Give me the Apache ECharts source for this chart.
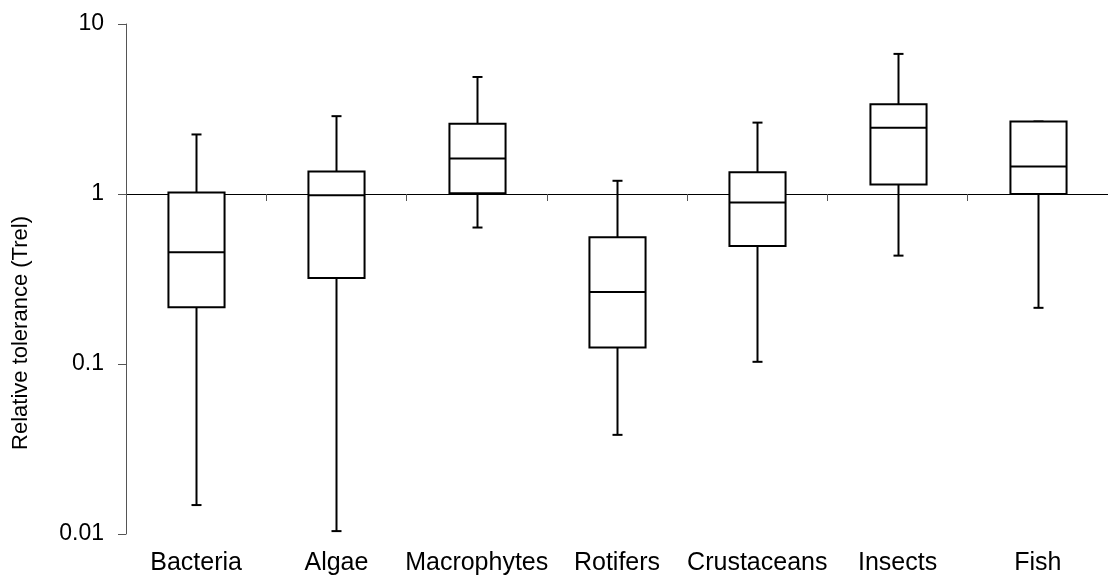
<!DOCTYPE html>
<html>
<head>
<meta charset="utf-8">
<style>
  html, body { margin: 0; padding: 0; background: #fff; }
  #chart { width: 1108px; height: 579px; }
</style>
<script src="https://cdn.jsdelivr.net/npm/echarts@6/dist/echarts.min.js"></script>
</head>
<body>
<div id="chart"></div>
<script>
// Taxonomic groups along the category axis
const categories = ['Bacteria', 'Algae', 'Macrophytes', 'Rotifers', 'Crustaceans', 'Insects', 'Fish'];

// Box-and-whisker statistics of relative tolerance (Trel) per group
const whiskerLow  = [0.0148, 0.0104, 0.635, 0.0383, 0.103, 0.434, 0.214];
const quartile1   = [0.216, 0.321, 1.01, 0.125, 0.495, 1.137, 1.00];
const median      = [0.454, 0.984, 1.62, 0.265, 0.891, 2.45, 1.45];
const quartile3   = [1.02, 1.357, 2.59, 0.556, 1.344, 3.37, 2.67];
const whiskerHigh = [2.24, 2.87, 4.88, 1.196, 2.63, 6.67, 2.67];

// Log-axis tick labels
const yTickLabels = ['0.01', '0.1', '1', '10'];

const FONT = '"Liberation Sans", Arial, sans-serif';
const GRID = { left: 126, top: 24, width: 988, height: 510 };

const boxData = categories.map((c, i) =>
  [i, whiskerLow[i], quartile1[i], median[i], quartile3[i], whiskerHigh[i]]);

function renderBox(params, api) {
  const i = api.value(0);
  const pLow = api.coord([i, api.value(1)]);
  const pQ1 = api.coord([i, api.value(2)]);
  const pMed = api.coord([i, api.value(3)]);
  const pQ3 = api.coord([i, api.value(4)]);
  const pHigh = api.coord([i, api.value(5)]);
  const cx = Math.round(pMed[0]) + 0.5;
  const halfBox = api.size([1, 0])[0] * 0.4 / 2;
  const halfCap = 5;
  const stroke = { stroke: '#000', lineWidth: 2, fill: null };
  const line = (x1, y1, x2, y2) => ({
    type: 'line', shape: { x1, y1, x2, y2 }, style: stroke
  });
  const children = [
    line(cx, pQ3[1], cx, pHigh[1]),
    line(cx - halfCap, pHigh[1], cx + halfCap, pHigh[1]),
    line(cx, pQ1[1], cx, pLow[1]),
    line(cx - halfCap, pLow[1], cx + halfCap, pLow[1]),
    {
      type: 'rect',
      shape: { x: cx - halfBox, y: pQ3[1], width: halfBox * 2, height: pQ1[1] - pQ3[1] },
      style: { stroke: '#000', lineWidth: 2, fill: '#fff' }
    },
    line(cx - halfBox, pMed[1], cx + halfBox, pMed[1])
  ];
  return { type: 'group', children };
}

const chart = echarts.init(document.getElementById('chart'), null, { renderer: 'canvas' });

chart.setOption({
  animation: false,
  backgroundColor: '#fff',
  grid: GRID,
  xAxis: [
    {
      // category names along the bottom
      type: 'category',
      data: categories,
      position: 'bottom',
      axisLine: { show: false },
      axisTick: { show: false },
      splitLine: { show: false },
      axisLabel: { color: '#000', fontFamily: FONT, fontSize: 25, margin: 17, interval: 0 }
    },
    {
      // reference line crossing the value axis at Trel = 1
      type: 'category',
      data: categories,
      position: 'bottom',
      offset: -GRID.height * 2 / 3,
      axisLine: { show: true, lineStyle: { color: '#000', width: 1 } },
      axisTick: { show: true, length: 7, interval: 0, lineStyle: { color: '#555', width: 1 } },
      axisLabel: { show: false },
      splitLine: { show: false }
    }
  ],
  yAxis: {
    type: 'log',
    logBase: 10,
    min: 0.01,
    max: 10,
    axisLine: { show: true, lineStyle: { color: '#555', width: 1 } },
    axisTick: { show: true, length: 8, lineStyle: { color: '#555', width: 1 } },
    minorTick: { show: false },
    splitLine: { show: false },
    axisLabel: {
      color: '#000',
      fontFamily: FONT,
      fontSize: 23,
      margin: 22,
      formatter: v => yTickLabels[Math.round(Math.log10(v)) + 2]
    }
  },
  graphic: [
    {
      type: 'text',
      x: 21,
      y: 333,
      rotation: Math.PI / 2,
      style: {
        text: 'Relative tolerance (Trel)',
        fontFamily: FONT,
        fontSize: 22,
        fill: '#000',
        textAlign: 'center',
        textVerticalAlign: 'middle'
      }
    }
  ],
  series: [
    {
      type: 'custom',
      xAxisIndex: 0,
      renderItem: renderBox,
      encode: { x: 0, y: [1, 2, 3, 4, 5] },
      data: boxData,
      z: 1
    }
  ]
});
</script>
</body>
</html>
